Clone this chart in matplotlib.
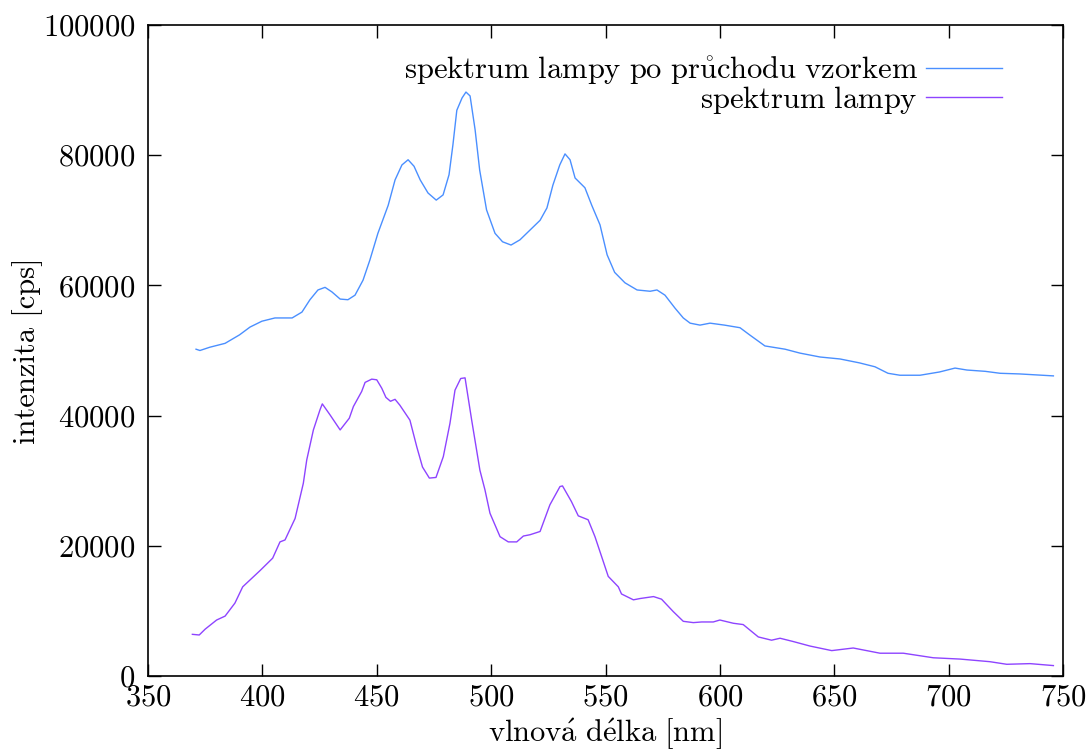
import numpy as np
import matplotlib
matplotlib.use("Agg")
import matplotlib.pyplot as plt

# spektrum lampy po průchodu vzorkem
x_vzorek = [371, 372.7, 377, 383.7, 390, 394.6, 399.8, 405.5, 413, 417.3, 420.8, 424.3,
            427.4, 430.4, 434, 437.4, 440.5, 444, 447, 450.5, 455, 458, 461, 463.7,
            466.3, 469, 472.4, 476, 479, 481.6, 483.3, 485, 487.3, 489, 490.8, 493,
            495, 498, 501.7, 505, 508.7, 512.6, 517, 521.4, 524.4, 527, 530, 532.3,
            534.5, 536.7, 541, 544, 547.6, 550.7, 554, 558.5, 563.8, 569.5, 572.5,
            576, 580.4, 584, 587, 591.3, 595.7, 602, 608.8, 613, 619.7, 628.5, 635,
            643.8, 652.5, 661, 667.8, 673.5, 678.7, 687.5, 696, 702.8, 708, 716,
            722.5, 731, 745.8]
y_vzorek = [50200, 50000, 50500, 51100, 52400, 53600, 54500, 55000, 55000, 55900, 57800, 59300,
            59700, 59000, 57900, 57800, 58500, 60800, 63900, 68000, 72300, 76200, 78500, 79300,
            78300, 76200, 74200, 73100, 73900, 77000, 81600, 86900, 88800, 89700, 89100, 83900,
            77700, 71600, 68000, 66700, 66200, 67000, 68500, 70000, 71900, 75400, 78500, 80200,
            79300, 76500, 75000, 72300, 69300, 64700, 62000, 60400, 59300, 59100, 59300,
            58500, 56500, 55000, 54200, 53900, 54200, 53900, 53500, 52400, 50700, 50200, 49600,
            49000, 48700, 48100, 47500, 46500, 46200, 46200, 46700, 47300, 47000, 46800,
            46500, 46400, 46100]

# spektrum lampy
x_lampa = [369.4, 372.4, 375, 380, 383.7, 388, 391.4, 399, 404.5, 407.7, 409.9, 414.3,
           417.9, 419.4, 422.3, 425.2, 426.2, 429.6, 434, 438, 439.8, 443.4, 444.9, 447.8,
           450, 452.2, 454, 456, 458, 460.1, 462.4, 464.5, 467.5, 470, 473, 475.9, 479.1,
           482, 484.2, 486.7, 488.6, 491.5, 495.1, 497.3, 499.5, 503.9, 507.5, 511.2, 514.1,
           517, 521.4, 525.7, 530.1, 531.2, 535.1, 538.1, 542.4, 545.4, 551.2, 555.6, 557,
           562.2, 565.1, 571, 574.5, 579.6, 584, 588.4, 592, 597.1, 600, 605.9, 610.2,
           616.8, 622.6, 626.3, 632, 639.4, 648.9, 658.3, 670, 680.2, 693.3, 705, 718,
           725.4, 735.6, 745.8]
y_lampa = [6400, 6300, 7200, 8600, 9200, 11200, 13700, 16200, 18100, 20600, 20900, 24200,
           29600, 33200, 37800, 40900, 41800, 40100, 37800, 39600, 41400, 43700, 45100, 45600,
           45500, 44200, 42800, 42200, 42500, 41600, 40400, 39300, 35200, 32100, 30400, 30500, 33700,
           38800, 43900, 45700, 45800, 39300, 31600, 28600, 25000, 21400, 20600, 20600, 21500,
           21700, 22200, 26300, 29100, 29200, 26800, 24600, 24000, 21400, 15300, 13700, 12600,
           11700, 11900, 12200, 11800, 9900, 8400, 8200, 8300, 8300, 8600, 8100, 7900,
           6000, 5500, 5800, 5300, 4600, 3900, 4300, 3500, 3500, 2800, 2600, 2200,
           1800, 1900, 1600]

plt.rcParams['font.family'] = ['cmr10', 'DejaVu Serif']
plt.rcParams['mathtext.fontset'] = 'cm'
plt.rcParams['axes.formatter.use_mathtext'] = True
plt.rcParams['font.size'] = 22

fig = plt.figure(figsize=(10.89, 7.53), dpi=100)
ax = fig.add_axes([148 / 1089, 1 - 676 / 753, (1063 - 148) / 1089, (676 - 25) / 753])

# popisky s diakritikou přes mathtext (cmr10 nemá ů, á, é)
lbl_vzorek = r'$\mathrm{spektrum\ lampy\ po\ pr\mathring{u}chodu\ vzorkem}$'
lbl_lampa = r'$\mathrm{spektrum\ lampy}$'

ax.plot(x_vzorek, y_vzorek, color='#4a8fff', lw=1.0, label=lbl_vzorek)
ax.plot(x_lampa, y_lampa, color='#8e44ff', lw=1.0, label=lbl_lampa)

ax.set_xlim(350, 750)
ax.set_ylim(0, 100000)
ax.set_xticks(np.arange(350, 751, 50))
ax.set_yticks(np.arange(0, 100001, 20000))
ax.tick_params(direction='in', top=True, right=True, length=9, width=1)
ax.tick_params(axis='x', pad=6)
ax.tick_params(axis='y', pad=9)
for s in ax.spines.values():
    s.set_linewidth(1.2)

ax.set_xlabel(r'$\mathrm{vlnov\acute{a}\ d\acute{e}lka\ [nm]}$', labelpad=3)
ax.set_ylabel('intenzita [cps]', labelpad=0)

ax.legend(loc='upper right', frameon=False, markerfirst=False, handlelength=2.5,
          labelspacing=-0.1, borderaxespad=1.6, handletextpad=0.25,
          bbox_to_anchor=(1.0, 1.049))

fig.savefig('out.png', dpi=100)
